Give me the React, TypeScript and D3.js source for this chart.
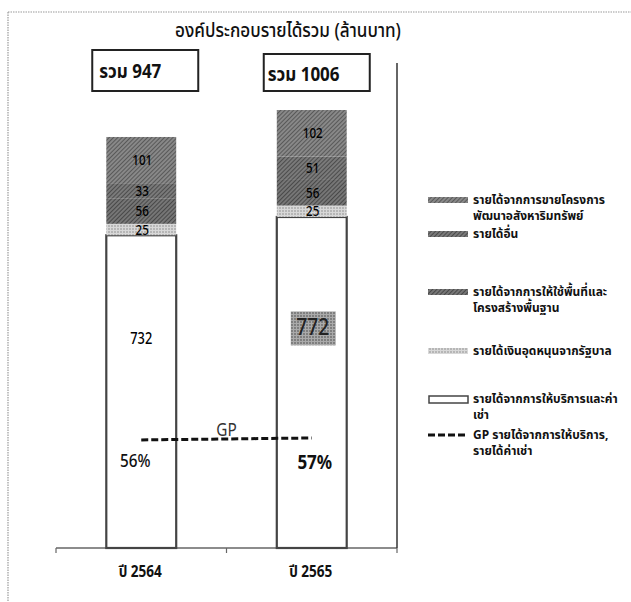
import * as d3 from 'd3';

const years = ['ปี 2564', 'ปี 2565'];
const totals = [947, 1006];
const serviceRent = [732, 772];
const subsidy = [25, 25];
const spaceInfra = [56, 56];
const otherIncome = [33, 51];
const propertySales = [101, 102];
const gpPct = [56, 57];

const seriesKeys = ['serviceRent', 'subsidy', 'spaceInfra', 'otherIncome', 'propertySales'];
const seriesValues: Record<string, number[]> = { serviceRent, subsidy, spaceInfra, otherIncome, propertySales };

const legendItems = [
  { key: 'propertySales', lines: ['รายได้จากการขายโครงการ', 'พัฒนาอสังหาริมทรัพย์'] },
  { key: 'otherIncome', lines: ['รายได้อื่น'] },
  { key: 'spaceInfra', lines: ['รายได้จากการให้ใช้พื้นที่และ', 'โครงสร้างพื้นฐาน'] },
  { key: 'subsidy', lines: ['รายได้เงินอุดหนุนจากรัฐบาล'] },
  { key: 'serviceRent', lines: ['รายได้จากการให้บริการและค่า', 'เช่า'] },
  { key: 'gp', lines: ['GP รายได้จากการให้บริการ,', 'รายได้ค่าเช่า'] },
];

const FONT = "'Noto Sans', 'Noto Sans Thai', Tahoma, sans-serif";

const fills: Record<string, string> = {
  propertySales: 'url(#hatch-sales)',
  otherIncome: 'url(#hatch-other)',
  spaceInfra: 'url(#hatch-space)',
  subsidy: 'url(#dots-subsidy)',
  serviceRent: '#ffffff',
};

// condensed text, the scan uses a narrow font
function CText({ x, y, size, sx = 0.8, anchor = 'middle', weight = 'normal', fill = '#111', children }: any) {
  return (
    <text transform={`translate(${x},${y}) scale(${sx},1)`} textAnchor={anchor} fontFamily={FONT}
      fontSize={size} fontWeight={weight} fill={fill}>
      {children}
    </text>
  );
}

export default function App() {
  const W = 631;
  const H = 602;
  const x = d3.scaleBand().domain(years).range([56, 397]).paddingInner(0.59).paddingOuter(0.295);
  const y = d3.scaleLinear().domain([48, 1006]).range([548, 110]).clamp(true);
  const yPct = d3.scaleLinear().domain([0, 100]).range([548, 355]);

  const rows = years.map((yr, i) => {
    const r: any = { year: yr };
    seriesKeys.forEach(k => (r[k] = seriesValues[k][i]));
    return r;
  });
  const stacked = d3.stack<any>().keys(seriesKeys)(rows);
  const bw = x.bandwidth();
  const cx = (yr: string) => (x(yr) ?? 0) + bw / 2;

  const gpLine = d3.line<number>()
    .x((_, i) => cx(years[i]))
    .y(d => yPct(d))(gpPct);

  const legendY = [200, 234, 292, 351, 399, 435];

  return (
    <svg width={W} height={H} style={{ position: 'absolute', left: 0, top: 0, background: '#fff' }}>
      <defs>
        <pattern id="hatch-sales" width="3" height="3" patternUnits="userSpaceOnUse" patternTransform="rotate(45)">
          <rect width="3" height="3" fill="#888" />
          <line x1="0" y1="0" x2="0" y2="3" stroke="#444" strokeWidth="1.4" />
        </pattern>
        <pattern id="hatch-other" width="3" height="3" patternUnits="userSpaceOnUse" patternTransform="rotate(45)">
          <rect width="3" height="3" fill="#7a7a7a" />
          <line x1="0" y1="0" x2="0" y2="3" stroke="#3c3c3c" strokeWidth="1.5" />
        </pattern>
        <pattern id="hatch-space" width="3" height="3" patternUnits="userSpaceOnUse" patternTransform="rotate(45)">
          <rect width="3" height="3" fill="#767676" />
          <line x1="0" y1="0" x2="0" y2="3" stroke="#383838" strokeWidth="1.5" />
        </pattern>
        <pattern id="dots-subsidy" width="3" height="3" patternUnits="userSpaceOnUse">
          <rect width="3" height="3" fill="#d8d8d8" />
          <circle cx="1" cy="1" r="0.8" fill="#8a8a8a" />
        </pattern>
        <pattern id="dots-box" width="3" height="3" patternUnits="userSpaceOnUse">
          <rect width="3" height="3" fill="#aaa" />
          <circle cx="1" cy="1" r="0.9" fill="#6a6a6a" />
        </pattern>
      </defs>

      {/* frame */}
      <line x1={8} y1={12} x2={W} y2={12} stroke="#9a9a9a" strokeWidth={1.2} strokeDasharray="1.5,1" />
      <line x1={8} y1={12} x2={8} y2={H} stroke="#9a9a9a" strokeWidth={1.2} strokeDasharray="1.5,1" />

      {/* title */}
      <CText x={288} y={37} size={19} sx={0.9} weight={500} fill="#111">องค์ประกอบรายได้รวม (ล้านบาท)</CText>

      {/* total boxes */}
      {years.map((yr, i) => {
        const bx = cx(yr) + (i === 0 ? -49 : -48);
        const by = i === 0 ? 50 : 54;
        return (
          <g key={yr}>
            <rect x={bx} y={by} width={106} height={91 - by} fill="#fff" stroke="#222" strokeWidth={2} />
            <CText x={bx + (i === 0 ? 7 : 4)} y={by + (i === 0 ? 28 : 27)} size={20} sx={0.85} anchor="start" weight="bold" fill="#111">
              รวม {totals[i]}
            </CText>
          </g>
        );
      })}

      {/* axis */}
      <line x1={56} y1={548} x2={397} y2={548} stroke="#666" strokeWidth={1.5} />
      {[56, ...years.map(yr => (x(yr) ?? 0) + bw + (x.step() - bw) / 2)].map((t, i) => (
        <line key={i} x1={t} y1={548} x2={t} y2={553} stroke="#666" strokeWidth={1.2} />
      ))}
      <line x1={397} y1={63} x2={397} y2={548} stroke="#333" strokeWidth={1.5} />

      {/* bars */}
      {stacked.map(s => (
        <g key={s.key}>
          {s.map((d, i) => {
            const yr = years[i];
            const y0 = y(d[0]);
            const y1 = y(d[1]);
            return (
              <rect key={yr} x={x(yr)} y={y1} width={bw} height={y0 - y1}
                fill={fills[s.key]}
                stroke={s.key === 'serviceRent' ? '#444' : 'none'}
                strokeWidth={s.key === 'serviceRent' ? 2.2 : 0} />
            );
          })}
        </g>
      ))}

      {/* segment labels */}
      {stacked.map(s => s.map((d, i) => {
        const yr = years[i];
        const v = d[1] - d[0];
        if (s.key === 'serviceRent') {
          const ly = y(v * 0.69);
          if (i === 1) {
            return (
              <g key={s.key + yr}>
                <rect x={cx(yr) - 21} y={ly - 15} width={45} height={34} fill="url(#dots-box)" />
                <CText x={cx(yr) + 1} y={ly + 9} size={24} sx={0.8} weight={500} fill="#222">{v}</CText>
              </g>
            );
          }
          return <CText key={s.key + yr} x={cx(yr)} y={ly + 5} size={16} weight={500} fill="#000">{v}</CText>;
        }
        return (
          <CText key={s.key + yr} x={cx(yr) + 1} y={y((d[0] + d[1]) / 2) + 5} size={14.5} weight={500} fill="#000">{v}</CText>
        );
      }))}

      {/* GP line */}
      <path d={gpLine ?? ''} fill="none" stroke="#111" strokeWidth={3} strokeDasharray="7,3" />
      <CText x={(cx(years[0]) + cx(years[1])) / 2} y={yPct(d3.mean(gpPct) ?? 0) - 3} size={18} sx={0.85} fill="#333">GP</CText>
      {gpPct.map((p, i) => (
        <CText key={i} x={cx(years[i]) + (i === 0 ? -6 : 3)} y={yPct(p) + (i === 0 ? 27 : 31)}
          size={i === 0 ? 18 : 20} sx={0.85} weight={i === 1 ? 'bold' : 500} fill="#111">{p}%</CText>
      ))}

      {/* category labels */}
      {years.map(yr => (
        <CText key={yr} x={cx(yr) - 1} y={577} size={16} sx={0.85} weight="bold">{yr}</CText>
      ))}

      {/* legend */}
      {legendItems.map((it, i) => {
        const ly = legendY[i];
        return (
          <g key={it.key}>
            {it.key === 'gp' ? (
              <line x1={428} y1={ly} x2={468} y2={ly} stroke="#111" strokeWidth={3} strokeDasharray="7,3" />
            ) : it.key === 'serviceRent' ? (
              <rect x={429} y={ly - 3} width={39} height={7} fill="#fff" stroke="#444" strokeWidth={1.5} />
            ) : (
              <rect x={428} y={ly - 3} width={40} height={6} fill={fills[it.key]} />
            )}
            {it.lines.map((l, li) => (
              <CText key={li} x={473} y={ly + 4 + li * 16} size={13} sx={0.92} anchor="start" weight="bold" fill="#111">{l}</CText>
            ))}
          </g>
        );
      })}
    </svg>
  );
}
